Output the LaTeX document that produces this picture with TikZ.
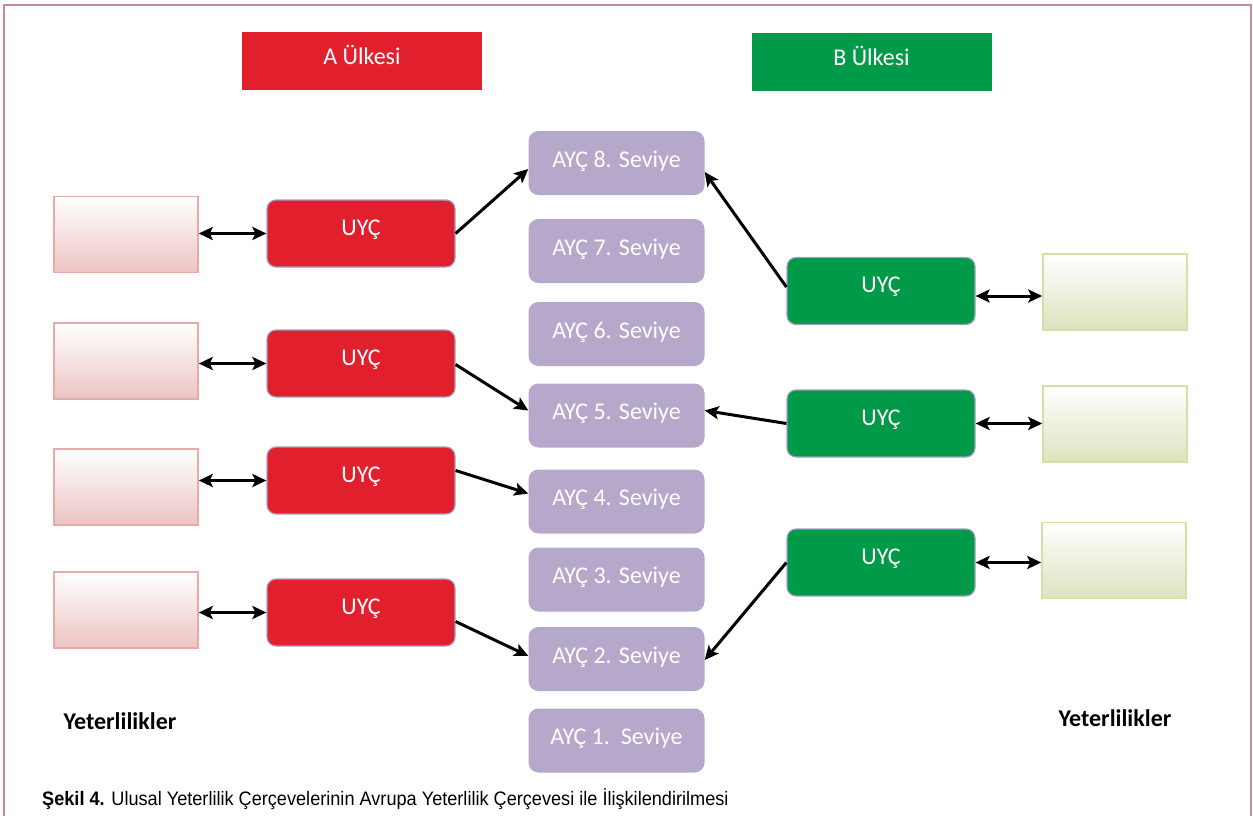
\documentclass[tikz,border=0pt]{standalone}
\usepackage{fontspec}
\setmainfont{Carlito}
\newfontfamily\capfont{Liberation Sans}
\usetikzlibrary{arrows.meta,calc}
\definecolor{redA}{HTML}{E11F2D}
\definecolor{greenB}{HTML}{009A49}
\definecolor{purp}{HTML}{B6A8CA}
\definecolor{uborder}{HTML}{A49EC0}
\definecolor{frame}{HTML}{C38AA0}
\definecolor{pinkbot}{HTML}{EBC4C2}
\definecolor{pinkline}{HTML}{E9A9A6}
\definecolor{grbot}{HTML}{DDE2BE}
\definecolor{grline}{HTML}{D7DFA6}
\tikzset{
  hdr/.style={rectangle, minimum width=240pt, minimum height=57pt, inner sep=0pt, text=white, font=\fontsize{24}{28}\selectfont, text height=13pt, text depth=6.6pt},
  uyc/.style={rectangle, rounded corners=9pt, minimum width=188pt, minimum height=67pt, inner sep=0pt, draw=uborder, line width=1.2pt, text=white, font=\fontsize{24}{28}\selectfont, text height=12pt, text depth=8.6pt},
  ayc/.style={rectangle, rounded corners=10pt, fill=purp, minimum width=176pt, minimum height=64pt, inner sep=0pt, text=white, font=\fontsize{24}{28}\selectfont, text height=14pt, text depth=5.6pt},
  qa/.style={rectangle, minimum width=144pt, minimum height=76pt, inner sep=0pt, draw=pinkline, line width=1.5pt, top color=white, bottom color=pinkbot},
  qb/.style={rectangle, minimum width=144pt, minimum height=76pt, inner sep=0pt, draw=grline, line width=1.5pt, top color=white, bottom color=grbot},
  tip/.tip={Stealth[length=14pt,width=13pt,inset=3pt]},
  con/.style={line width=3pt, -tip},
  dbl/.style={line width=3pt, tip-tip},
  lbl/.style={font=\fontsize{24}{28}\selectfont\bfseries}
}
\begin{document}
\begin{tikzpicture}[x=1pt,y=-1pt]
\useasboundingbox (0,0) rectangle (1253,816);
\draw[frame, line width=1.5pt] (4,818) -- (4,5) -- (1251,5) -- (1251,818);
% headers
\node[hdr, fill=redA] (ha) at (362,61) {A Ülkesi};
\node[hdr, fill=greenB] (hb) at (871.5,62) {B Ülkesi};
% left qualification boxes
\node[qa] (la1) at (126,234.5) {};
\node[qa] (la2) at (126,361) {};
\node[qa] (la3) at (126,487) {};
\node[qa] (la4) at (126,610) {};
% left UYC
\node[uyc, fill=redA] (u1) at (361,233.5) {UYÇ};
\node[uyc, fill=redA] (u2) at (361,363.5) {UYÇ};
\node[uyc, fill=redA] (u3) at (361,480.5) {UYÇ};
\node[uyc, fill=redA] (u4) at (361,612.5) {UYÇ};
% AYC levels
\node[ayc] (a8) at (616.5,163) {AYÇ 8. Seviye};
\node[ayc] (a7) at (616.5,251) {AYÇ 7. Seviye};
\node[ayc] (a6) at (616.5,334) {AYÇ 6. Seviye};
\node[ayc] (a5) at (616.5,415.5) {AYÇ 5. Seviye};
\node[ayc] (a4) at (616.5,501.5) {AYÇ 4. Seviye};
\node[ayc] (a3) at (616.5,579.5) {AYÇ 3. Seviye};
\node[ayc] (a2) at (616.5,659) {AYÇ 2. Seviye};
\node[ayc] (a1) at (616.5,740.5) {AYÇ 1.\ \ Seviye};
% right UYC
\node[uyc, fill=greenB] (g1) at (881,291) {UYÇ};
\node[uyc, fill=greenB] (g2) at (881,423.5) {UYÇ};
\node[uyc, fill=greenB] (g3) at (881,562.5) {UYÇ};
% right qualification boxes
\node[qb] (rb1) at (1115,292) {};
\node[qb] (rb2) at (1115,424) {};
\node[qb] (rb3) at (1114,560.5) {};
% double arrows
\draw[dbl] (la1.east |- u1.west) -- (u1.west);
\draw[dbl] (la2.east |- u2.west) -- (u2.west);
\draw[dbl] (la3.east |- u3.west) -- (u3.west);
\draw[dbl] (la4.east |- u4.west) -- (u4.west);
\draw[dbl] ([yshift=-5pt]g1.east) -- ([yshift=-5pt]g1.east -| rb1.west);
\draw[dbl] (g2.east) -- (g2.east -| rb2.west);
\draw[dbl] (g3.east) -- (g3.east -| rb3.west);
% connectors to AYC
\draw[con] (u1.east) -- ([yshift=-6pt]a8.west);
\draw[con] ([yshift=4pt]g1.west) -- ([yshift=-9pt]a8.east);
\draw[con] ([yshift=-1pt]u2.east) -- ([yshift=5pt]a5.west);
\draw[con] (g2.west) -- ([yshift=5pt]a5.east);
\draw[con] ([yshift=10pt]u3.east) -- ([yshift=8pt]a4.west);
\draw[con] ([yshift=-9pt]u4.east) -- ([yshift=3pt]a2.west);
\draw[con] (g3.west) -- ([yshift=-1pt]a2.east);
% labels
\node[lbl] (y1) at (120,721) {Yeterlilikler};
\node[lbl] (y2) at (1115,718) {Yeterlilikler};
% caption
\node[anchor=base west, inner sep=0pt, font=\capfont\fontsize{19.5}{22}\selectfont] (cap) at (42,805) {\scalebox{0.93}[1]{\textbf{Şekil 4.} Ulusal Yeterlilik Çerçevelerinin Avrupa Yeterlilik Çerçevesi ile İlişkilendirilmesi}};
\end{tikzpicture}
\end{document}
